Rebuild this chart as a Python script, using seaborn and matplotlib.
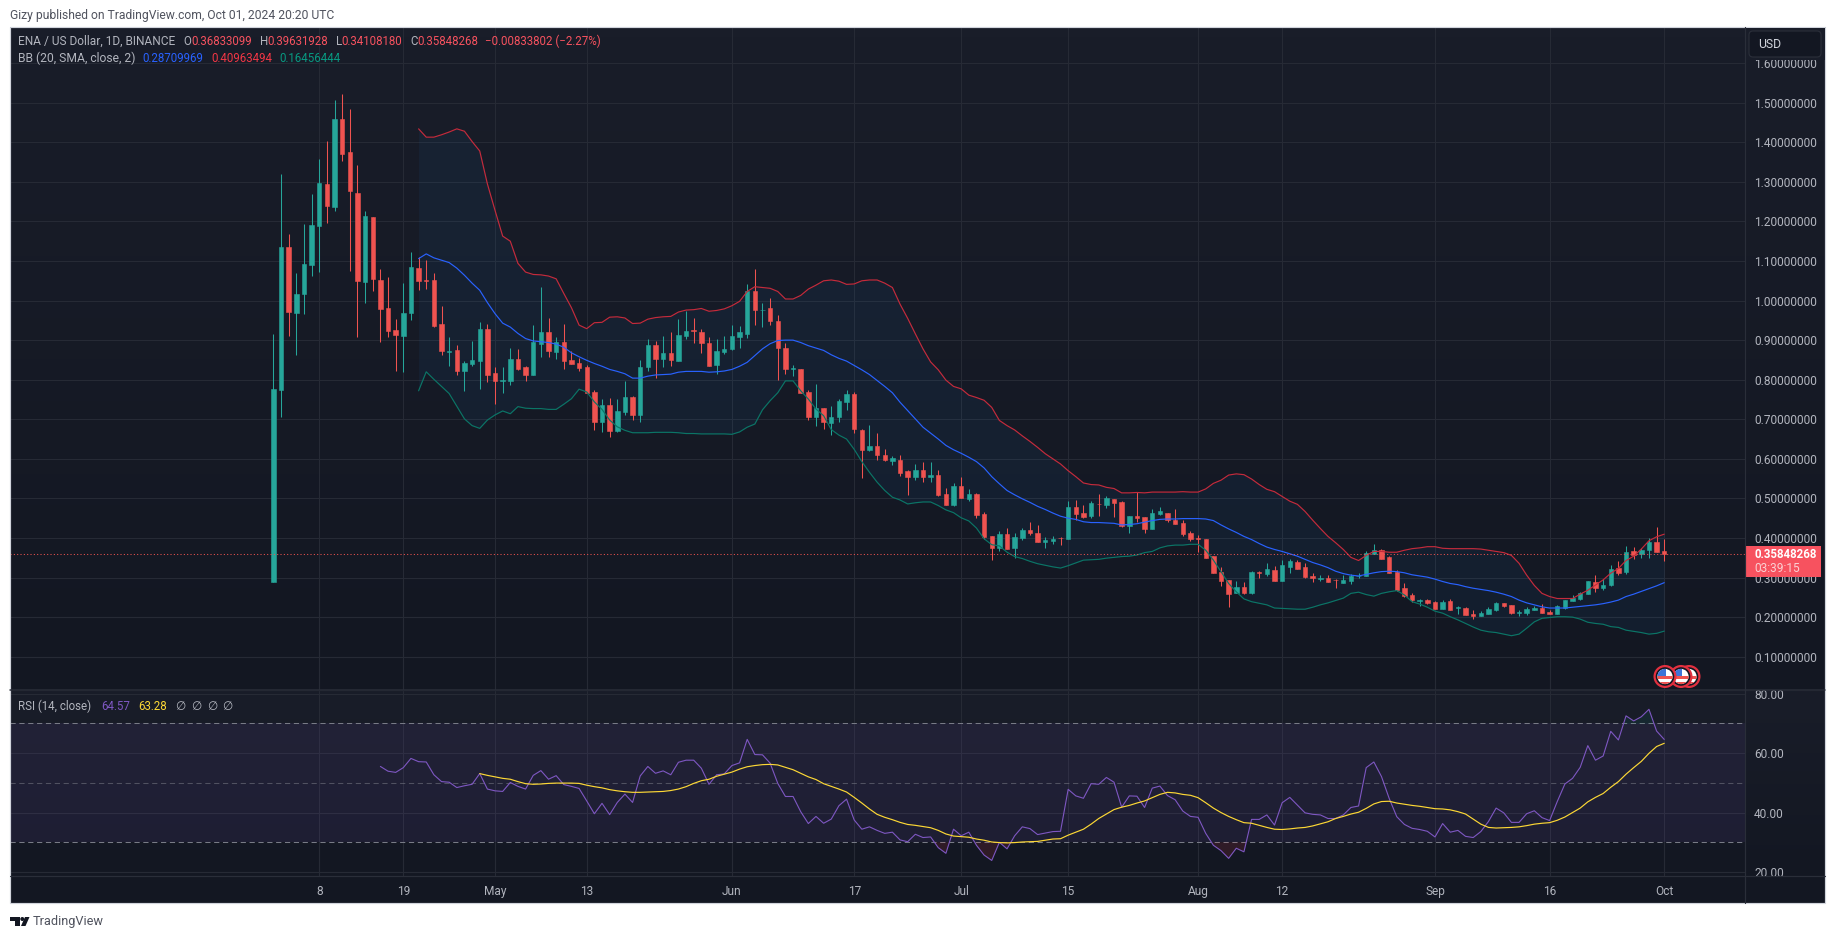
import numpy as np
import pandas as pd
import matplotlib
matplotlib.use("Agg")
import matplotlib.pyplot as plt
from matplotlib.colors import LinearSegmentedColormap
from matplotlib.patches import Circle, Rectangle, FancyBboxPatch, Polygon
import seaborn as sns

# ENA / USD daily candles, 2 Apr to 1 Oct 2024
first_day = "2024-04-02"
opens = [0.29, 0.774, 1.135, 0.969, 1.017, 1.090, 1.188, 1.294, 1.236, 1.460,
         1.375, 1.273, 1.047, 1.210, 1.053, 0.980, 0.925, 0.910, 0.969, 1.082,
         1.051, 1.051, 0.940, 0.870, 0.874, 0.821, 0.839, 0.847, 0.927, 0.816,
         0.797, 0.796, 0.852, 0.831, 0.811, 0.890, 0.920, 0.869, 0.895, 0.849,
         0.842, 0.831, 0.768, 0.693, 0.735, 0.670, 0.718, 0.756, 0.710, 0.831,
         0.887, 0.852, 0.867, 0.847, 0.910, 0.925, 0.920, 0.892, 0.836, 0.869,
         0.877, 0.907, 0.916, 1.025, 0.975, 0.980, 0.949, 0.881, 0.828, 0.828,
         0.770, 0.707, 0.729, 0.691, 0.707, 0.744, 0.765, 0.674, 0.623, 0.633,
         0.610, 0.595, 0.598, 0.570, 0.555, 0.573, 0.555, 0.560, 0.512, 0.484,
         0.532, 0.499, 0.512, 0.461, 0.406, 0.375, 0.411, 0.375, 0.401, 0.421,
         0.413, 0.391, 0.393, 0.401, 0.398, 0.479, 0.464, 0.456, 0.487, 0.484,
         0.499, 0.492, 0.431, 0.456, 0.454, 0.423, 0.461, 0.464, 0.446, 0.439,
         0.412, 0.400, 0.397, 0.354, 0.314, 0.294, 0.261, 0.276, 0.261, 0.314,
         0.309, 0.319, 0.291, 0.326, 0.339, 0.326, 0.304, 0.297, 0.299, 0.295,
         0.286, 0.291, 0.303, 0.304, 0.359, 0.369, 0.352, 0.314, 0.273, 0.256,
         0.240, 0.242, 0.238, 0.220, 0.241, 0.223, 0.223, 0.208, 0.203, 0.208,
         0.218, 0.235, 0.230, 0.211, 0.210, 0.218, 0.223, 0.213, 0.208, 0.223,
         0.241, 0.246, 0.258, 0.289, 0.273, 0.281, 0.324, 0.314, 0.367, 0.359,
         0.369, 0.390, 0.36833]
highs = [0.915, 1.319, 1.167, 1.069, 1.194, 1.270, 1.359, 1.404, 1.506, 1.523,
         1.483, 1.342, 1.226, 1.210, 1.079, 1.059, 0.953, 1.044, 1.122, 1.109,
         1.102, 1.069, 0.986, 0.907, 0.887, 0.847, 0.897, 0.945, 0.940, 0.831,
         0.831, 0.879, 0.877, 0.834, 0.938, 1.034, 0.955, 0.907, 0.940, 0.872,
         0.854, 0.836, 0.773, 0.751, 0.753, 0.751, 0.796, 0.758, 0.849, 0.902,
         0.897, 0.910, 0.920, 0.953, 0.973, 0.955, 0.927, 0.907, 0.902, 0.910,
         0.938, 0.935, 1.041, 1.081, 0.995, 1.007, 0.964, 0.894, 0.838, 0.828,
         0.775, 0.790, 0.729, 0.734, 0.750, 0.775, 0.770, 0.676, 0.686, 0.666,
         0.626, 0.608, 0.610, 0.573, 0.588, 0.593, 0.593, 0.573, 0.527, 0.540,
         0.555, 0.525, 0.514, 0.466, 0.406, 0.418, 0.426, 0.413, 0.424, 0.441,
         0.434, 0.403, 0.406, 0.403, 0.494, 0.497, 0.484, 0.494, 0.512, 0.507,
         0.499, 0.494, 0.456, 0.517, 0.454, 0.472, 0.479, 0.464, 0.474, 0.446,
         0.418, 0.407, 0.397, 0.354, 0.326, 0.294, 0.291, 0.289, 0.316, 0.316,
         0.337, 0.329, 0.344, 0.347, 0.344, 0.337, 0.311, 0.306, 0.306, 0.296,
         0.306, 0.309, 0.311, 0.367, 0.385, 0.371, 0.354, 0.319, 0.286, 0.261,
         0.246, 0.246, 0.241, 0.243, 0.246, 0.228, 0.225, 0.218, 0.215, 0.225,
         0.238, 0.235, 0.230, 0.218, 0.225, 0.228, 0.233, 0.218, 0.230, 0.243,
         0.256, 0.263, 0.291, 0.306, 0.296, 0.332, 0.342, 0.380, 0.377, 0.374,
         0.400, 0.428, 0.39632]
lows = [0.29, 0.706, 0.910, 0.862, 0.965, 1.062, 1.072, 1.196, 1.226, 1.354,
        1.075, 0.908, 0.994, 1.024, 0.895, 0.908, 0.822, 0.820, 0.950, 1.026,
        1.029, 0.933, 0.862, 0.834, 0.811, 0.771, 0.834, 0.776, 0.794, 0.738,
        0.766, 0.786, 0.824, 0.796, 0.811, 0.857, 0.857, 0.852, 0.826, 0.839,
        0.821, 0.766, 0.672, 0.667, 0.655, 0.667, 0.710, 0.698, 0.693, 0.821,
        0.804, 0.831, 0.834, 0.847, 0.902, 0.892, 0.867, 0.834, 0.814, 0.864,
        0.874, 0.879, 0.905, 0.939, 0.934, 0.939, 0.798, 0.815, 0.810, 0.767,
        0.699, 0.684, 0.676, 0.661, 0.694, 0.724, 0.666, 0.552, 0.621, 0.598,
        0.595, 0.585, 0.557, 0.509, 0.547, 0.542, 0.542, 0.507, 0.484, 0.482,
        0.502, 0.494, 0.451, 0.398, 0.345, 0.368, 0.373, 0.350, 0.396, 0.408,
        0.391, 0.375, 0.386, 0.381, 0.398, 0.446, 0.451, 0.451, 0.456, 0.477,
        0.454, 0.429, 0.413, 0.441, 0.413, 0.423, 0.459, 0.441, 0.436, 0.406,
        0.393, 0.365, 0.349, 0.311, 0.278, 0.225, 0.261, 0.258, 0.258, 0.299,
        0.304, 0.291, 0.291, 0.311, 0.321, 0.299, 0.289, 0.291, 0.289, 0.273,
        0.286, 0.283, 0.299, 0.304, 0.359, 0.347, 0.311, 0.266, 0.251, 0.238,
        0.228, 0.233, 0.220, 0.220, 0.218, 0.208, 0.205, 0.195, 0.203, 0.208,
        0.215, 0.225, 0.208, 0.203, 0.205, 0.218, 0.210, 0.208, 0.208, 0.220,
        0.241, 0.243, 0.258, 0.263, 0.268, 0.278, 0.306, 0.309, 0.347, 0.349,
        0.349, 0.364, 0.34108]
closes = [0.776, 1.135, 0.971, 1.016, 1.092, 1.190, 1.296, 1.239, 1.460, 1.370,
          1.277, 1.050, 1.213, 1.055, 0.979, 0.923, 0.912, 0.968, 1.084, 1.050,
          1.049, 0.935, 0.873, 0.872, 0.821, 0.842, 0.849, 0.927, 0.811, 0.796,
          0.799, 0.852, 0.826, 0.811, 0.895, 0.920, 0.872, 0.895, 0.847, 0.839,
          0.829, 0.766, 0.693, 0.735, 0.670, 0.720, 0.756, 0.710, 0.831, 0.887,
          0.852, 0.867, 0.849, 0.912, 0.922, 0.923, 0.892, 0.834, 0.872, 0.877,
          0.910, 0.920, 1.025, 0.977, 0.977, 0.949, 0.881, 0.828, 0.830, 0.767,
          0.707, 0.729, 0.694, 0.707, 0.747, 0.765, 0.676, 0.623, 0.633, 0.610,
          0.598, 0.603, 0.565, 0.555, 0.573, 0.555, 0.560, 0.509, 0.484, 0.532,
          0.502, 0.512, 0.459, 0.403, 0.375, 0.411, 0.373, 0.403, 0.421, 0.413,
          0.391, 0.396, 0.398, 0.399, 0.479, 0.461, 0.454, 0.489, 0.485, 0.502,
          0.489, 0.431, 0.456, 0.451, 0.423, 0.464, 0.469, 0.446, 0.436, 0.411,
          0.397, 0.398, 0.349, 0.311, 0.291, 0.258, 0.276, 0.261, 0.314, 0.311,
          0.321, 0.291, 0.332, 0.342, 0.321, 0.301, 0.299, 0.299, 0.289, 0.293,
          0.294, 0.304, 0.305, 0.362, 0.369, 0.347, 0.311, 0.268, 0.253, 0.243,
          0.242, 0.235, 0.220, 0.238, 0.218, 0.225, 0.205, 0.204, 0.210, 0.220,
          0.235, 0.228, 0.210, 0.213, 0.220, 0.223, 0.210, 0.208, 0.228, 0.243,
          0.248, 0.261, 0.291, 0.273, 0.281, 0.321, 0.311, 0.364, 0.357, 0.369,
          0.390, 0.364, 0.35848]

# Bollinger bands start on candle 19
bb_upper = [1.434, 1.413, 1.413, 1.419, 1.426, 1.434, 1.428, 1.402, 1.378, 1.295,
            1.228, 1.163, 1.150, 1.094, 1.072, 1.066, 1.065, 1.062, 1.055, 1.018,
            0.982, 0.938, 0.929, 0.944, 0.945, 0.958, 0.959, 0.956, 0.942, 0.943,
            0.953, 0.957, 0.959, 0.960, 0.971, 0.976, 0.977, 0.980, 0.973, 0.975,
            0.979, 0.987, 0.998, 1.023, 1.035, 1.033, 1.031, 1.023, 1.004, 1.004,
            1.013, 1.029, 1.039, 1.050, 1.052, 1.049, 1.041, 1.042, 1.050, 1.052,
            1.052, 1.044, 1.033, 0.991, 0.955, 0.916, 0.878, 0.845, 0.825, 0.799,
            0.783, 0.777, 0.761, 0.755, 0.748, 0.730, 0.697, 0.684, 0.673, 0.658,
            0.644, 0.629, 0.613, 0.600, 0.587, 0.570, 0.555, 0.539, 0.535, 0.534,
            0.528, 0.525, 0.514, 0.514, 0.515, 0.514, 0.516, 0.516, 0.516, 0.516,
            0.517, 0.516, 0.516, 0.524, 0.538, 0.546, 0.559, 0.562, 0.560, 0.549,
            0.535, 0.523, 0.517, 0.505, 0.493, 0.485, 0.467, 0.445, 0.424, 0.404,
            0.388, 0.371, 0.351, 0.343, 0.356, 0.366, 0.366, 0.364, 0.364, 0.369,
            0.373, 0.375, 0.378, 0.378, 0.374, 0.373, 0.373, 0.373, 0.373, 0.372,
            0.369, 0.366, 0.363, 0.356, 0.336, 0.306, 0.280, 0.260, 0.252, 0.247,
            0.247, 0.247, 0.258, 0.268, 0.281, 0.294, 0.311, 0.323, 0.343, 0.354,
            0.372, 0.393, 0.403, 0.4096]
bb_basis = [1.106, 1.118, 1.108, 1.102, 1.096, 1.082, 1.064, 1.044, 1.026, 0.995,
            0.967, 0.943, 0.933, 0.917, 0.904, 0.898, 0.896, 0.894, 0.890, 0.882,
            0.868, 0.858, 0.849, 0.841, 0.834, 0.826, 0.821, 0.815, 0.804, 0.804,
            0.809, 0.812, 0.813, 0.814, 0.819, 0.821, 0.821, 0.821, 0.819, 0.820,
            0.822, 0.826, 0.834, 0.844, 0.861, 0.878, 0.891, 0.899, 0.900, 0.900,
            0.894, 0.886, 0.880, 0.874, 0.863, 0.854, 0.847, 0.836, 0.825, 0.813,
            0.798, 0.783, 0.767, 0.743, 0.722, 0.701, 0.680, 0.665, 0.650, 0.634,
            0.623, 0.614, 0.604, 0.593, 0.577, 0.555, 0.537, 0.520, 0.509, 0.499,
            0.490, 0.480, 0.472, 0.463, 0.455, 0.450, 0.447, 0.441, 0.439, 0.439,
            0.438, 0.437, 0.433, 0.434, 0.436, 0.440, 0.444, 0.447, 0.448, 0.448,
            0.449, 0.449, 0.449, 0.448, 0.444, 0.433, 0.423, 0.414, 0.404, 0.396,
            0.386, 0.377, 0.371, 0.366, 0.360, 0.354, 0.346, 0.338, 0.332, 0.325,
            0.316, 0.310, 0.306, 0.304, 0.308, 0.312, 0.315, 0.316, 0.315, 0.312,
            0.307, 0.304, 0.301, 0.296, 0.290, 0.285, 0.282, 0.277, 0.273, 0.270,
            0.267, 0.263, 0.258, 0.252, 0.243, 0.236, 0.231, 0.226, 0.223, 0.223,
            0.223, 0.225, 0.227, 0.229, 0.231, 0.234, 0.238, 0.243, 0.252, 0.258,
            0.265, 0.272, 0.279, 0.2871]
bb_lower = [0.772, 0.820, 0.801, 0.783, 0.765, 0.733, 0.701, 0.684, 0.677, 0.698,
            0.711, 0.721, 0.714, 0.732, 0.728, 0.727, 0.727, 0.725, 0.725, 0.738,
            0.752, 0.776, 0.769, 0.744, 0.725, 0.698, 0.681, 0.672, 0.666, 0.666,
            0.666, 0.667, 0.667, 0.667, 0.666, 0.664, 0.664, 0.663, 0.663, 0.663,
            0.663, 0.662, 0.668, 0.680, 0.688, 0.724, 0.747, 0.767, 0.797, 0.797,
            0.772, 0.751, 0.726, 0.709, 0.674, 0.660, 0.650, 0.624, 0.593, 0.566,
            0.541, 0.520, 0.503, 0.496, 0.486, 0.489, 0.491, 0.491, 0.482, 0.471,
            0.464, 0.451, 0.443, 0.425, 0.398, 0.383, 0.380, 0.364, 0.353, 0.348,
            0.341, 0.335, 0.331, 0.327, 0.324, 0.330, 0.337, 0.344, 0.345, 0.346,
            0.349, 0.351, 0.353, 0.354, 0.357, 0.363, 0.366, 0.375, 0.380, 0.382,
            0.382, 0.384, 0.384, 0.369, 0.344, 0.315, 0.285, 0.264, 0.246, 0.239,
            0.235, 0.231, 0.223, 0.222, 0.221, 0.220, 0.220, 0.225, 0.231, 0.236,
            0.242, 0.248, 0.260, 0.263, 0.257, 0.253, 0.260, 0.264, 0.267, 0.256,
            0.239, 0.233, 0.225, 0.215, 0.210, 0.201, 0.193, 0.184, 0.175, 0.167,
            0.163, 0.161, 0.157, 0.153, 0.157, 0.172, 0.188, 0.197, 0.199, 0.201,
            0.201, 0.200, 0.195, 0.187, 0.184, 0.182, 0.176, 0.174, 0.167, 0.164,
            0.161, 0.157, 0.159, 0.1646]

# RSI starts on candle 14, its moving average on candle 27
rsi_values = [55.5, 53.9, 53.5, 55.1, 58.2, 57.1, 57.0, 52.7, 50.4, 50.2,
              48.4, 49.0, 49.5, 53.1, 47.9, 47.3, 47.1, 50.1, 48.8, 47.9,
              52.5, 54.1, 51.2, 52.4, 49.4, 48.8, 48.1, 43.9, 39.6, 43.1,
              39.3, 43.4, 46.2, 43.4, 52.3, 55.5, 53.2, 54.0, 52.7, 56.9,
              57.6, 57.6, 54.9, 49.5, 52.7, 53.0, 55.8, 56.7, 64.6, 59.5,
              59.4, 56.6, 49.8, 45.4, 45.4, 40.3, 36.3, 38.7, 36.4, 37.8,
              42.3, 44.5, 37.5, 34.4, 35.2, 34.0, 33.0, 33.4, 30.8, 30.2,
              32.7, 31.6, 31.8, 28.2, 26.3, 34.4, 32.2, 33.4, 29.0, 25.7,
              23.9, 30.0, 27.8, 32.2, 35.2, 34.6, 32.6, 33.1, 33.6, 33.7,
              47.8, 45.6, 44.8, 49.7, 49.5, 51.8, 50.2, 41.8, 45.6, 45.5,
              41.7, 48.2, 48.9, 45.7, 44.3, 40.5, 38.7, 38.4, 33.0, 29.0,
              27.2, 24.6, 28.0, 26.8, 37.7, 37.7, 39.2, 35.8, 43.3, 45.1,
              42.5, 39.9, 39.4, 39.2, 38.0, 38.0, 39.2, 41.7, 42.2, 55.1,
              57.0, 52.1, 44.8, 38.6, 36.0, 34.7, 34.3, 33.7, 31.8, 36.3,
              33.4, 34.0, 32.0, 31.6, 33.6, 37.0, 41.5, 39.9, 36.7, 36.7,
              39.6, 40.6, 38.3, 37.3, 43.7, 49.6, 51.5, 55.2, 62.5, 57.6,
              59.0, 67.3, 64.4, 72.5, 70.8, 72.2, 74.7, 67.4, 64.57]
rsi_ma = [53.1, 52.5, 52.0, 51.5, 51.2, 50.4, 49.7, 49.5, 49.6, 49.8,
          49.9, 49.9, 49.9, 49.8, 49.2, 48.7, 48.3, 47.7, 47.3, 47.0,
          46.8, 46.8, 46.9, 47.0, 47.1, 47.4, 47.9, 48.7, 49.8, 50.7,
          51.2, 52.2, 52.9, 53.6, 54.6, 55.4, 55.8, 56.1, 56.2, 56.0,
          55.2, 54.4, 53.2, 52.0, 51.1, 49.7, 48.8, 47.9, 46.9, 45.1,
          43.2, 41.2, 39.4, 38.4, 37.6, 36.7, 36.0, 35.7, 35.3, 34.9,
          34.0, 32.8, 32.1, 31.9, 31.7, 31.1, 30.7, 30.1, 29.9, 29.8,
          29.9, 30.1, 30.2, 30.3, 30.7, 31.1, 31.2, 32.4, 33.4, 34.4,
          36.1, 38.0, 39.5, 41.0, 41.8, 42.4, 43.2, 43.9, 45.0, 46.1,
          46.8, 46.6, 46.1, 45.8, 45.0, 43.3, 41.5, 40.0, 38.7, 37.6,
          36.6, 36.4, 35.7, 35.0, 34.4, 34.3, 34.5, 34.8, 35.0, 35.5,
          36.2, 36.9, 38.0, 38.7, 39.5, 40.1, 41.4, 42.9, 43.7, 43.8,
          43.2, 42.8, 42.4, 42.1, 41.7, 41.3, 41.2, 40.9, 40.3, 39.5,
          37.8, 36.1, 35.0, 34.8, 34.9, 35.0, 35.2, 35.6, 36.1, 36.4,
          36.6, 37.4, 38.5, 40.0, 41.5, 43.6, 45.1, 46.4, 48.5, 50.4,
          52.9, 55.1, 57.2, 59.9, 62.2, 63.28]

last_close = 0.35848268
price_ticks = [0.1, 0.2, 0.3, 0.4, 0.5, 0.6, 0.7, 0.8, 0.9, 1.0, 1.1, 1.2, 1.3, 1.4, 1.5, 1.6]
rsi_ticks = [20, 40, 60, 80]
rsi_levels = [30, 50, 70]
date_ticks = ["2024-04-08", "2024-04-19", "2024-05-01", "2024-05-13", "2024-06-01",
              "2024-06-17", "2024-07-01", "2024-07-15", "2024-08-01", "2024-08-12",
              "2024-09-01", "2024-09-16", "2024-10-01"]
date_labels = ["8", "19", "May", "13", "Jun", "17", "Jul", "15", "Aug", "12", "Sep", "16", "Oct"]

published = "Gizy published on TradingView.com, Oct 01, 2024 20:20 UTC"
symbol = "ENA / US Dollar, 1D, BINANCE"
ohlc_text = [("O", "0.36833099"), ("H", "0.39631928"), ("L", "0.34108180"), ("C", "0.35848268")]
change_text = "\u22120.00833802 (\u22122.27%)"
bb_text = "BB (20, SMA, close, 2)"
bb_readout = ["0.28709969", "0.40963494", "0.16456444"]
rsi_text = "RSI (14, close)"
rsi_readout = ["64.57", "63.28"]

GREEN = "#26a69a"
RED = "#ef5350"
GRID = "#262a35"
LINE = "#2a2e39"
TEXT = "#b2b5be"
W, H = 1835, 939

sns.set_theme(style="dark", rc={"axes.facecolor": "none", "figure.facecolor": "white"})
plt.rcParams["font.family"] = ["Roboto", "DejaVu Sans"]

df = pd.DataFrame({"date": pd.date_range(first_day, periods=len(opens)),
                   "open": opens, "high": highs, "low": lows, "close": closes})
df["upper"] = [np.nan] * 19 + bb_upper
df["basis"] = [np.nan] * 19 + bb_basis
df["lower"] = [np.nan] * 19 + bb_lower
df["rsi"] = [np.nan] * 14 + rsi_values
df["rsi_ma"] = [np.nan] * 27 + rsi_ma
df["color"] = np.where(df["close"] >= df["open"], GREEN, RED)


def pane(left, top, right, bottom):
    return fig.add_axes([left / W, 1 - bottom / H, (right - left) / W, (bottom - top) / H])


fig = plt.figure(figsize=(W / 100, H / 100), dpi=100)

# background in pixel coordinates
bg = pane(0, 0, W, H)
bg.set_zorder(-1)
shade = LinearSegmentedColormap.from_list("pane", ["#191d29", "#131722"])
ramp = np.linspace(0, 1, 64).reshape(-1, 1)
bg.imshow(ramp, cmap=shade, extent=[10, 1825, 692, 27], aspect="auto")
bg.imshow(ramp, cmap=shade, extent=[10, 1825, 877, 691], aspect="auto")
bg.add_patch(Rectangle((10, 876), 1815, 27, color="#131722", lw=0, zorder=5))
bg.set_xlim(0, W)
bg.set_ylim(H, 0)
bg.axis("off")

x_left = df["date"][0] + pd.Timedelta(days=(10 - 273.4) / 7.642)
x_right = df["date"][0] + pd.Timedelta(days=(1745 - 273.4) / 7.642)
tick_dates = pd.to_datetime(date_ticks)

# price pane
ax = pane(10, 27, 1745, 690)
ax.set_xlim(x_left, x_right)
ax.set_ylim(0.0158, 1.6914)
ax.fill_between(df["date"], df["lower"], df["upper"], color="#2196f3", alpha=0.06, lw=0, zorder=1)
ax.vlines(df["date"], df["low"], df["high"], colors=df["color"], lw=0.75, zorder=2)
ax.bar(df["date"], (df["close"] - df["open"]).abs(), bottom=df[["open", "close"]].min(axis=1),
       width=0.58, color=df["color"], edgecolor=df["color"], linewidth=0.4, zorder=3)
sns.lineplot(data=df, x="date", y="upper", ax=ax, color="#c42b3c", lw=0.85, zorder=4)
sns.lineplot(data=df, x="date", y="basis", ax=ax, color="#2962ff", lw=0.85, zorder=4)
sns.lineplot(data=df, x="date", y="lower", ax=ax, color="#0b7566", lw=0.85, zorder=4)
ax.axhline(last_close, color=RED, lw=0.75, ls=(0, (1, 2.2)), zorder=4)
ax.set_yticks(price_ticks)
ax.set_yticklabels(["%.8f" % v for v in price_ticks])
ax.set_xticks(tick_dates)
ax.tick_params(axis="x", length=0, labelbottom=False)

# RSI pane
ax2 = pane(10, 691, 1745, 876)
ax2.set_xlim(x_left, x_right)
ax2.set_ylim(18.67, 80.86)
ax2.axhspan(rsi_levels[0], rsi_levels[2], color="#7e57c2", alpha=0.1, lw=0, zorder=1)
for level in rsi_levels:
    ax2.axhline(level, color="#787b86", lw=0.75, ls=(0, (5, 3.5)), zorder=2,
                alpha=0.55 if level == 50 else 1)
ax2.fill_between(df["date"], df["rsi"], 30, where=df["rsi"] < 30, interpolate=True,
                 color="#f23645", alpha=0.13, lw=0, zorder=2)
ax2.fill_between(df["date"], df["rsi"], 70, where=df["rsi"] > 70, interpolate=True,
                 color="#089981", alpha=0.10, lw=0, zorder=2)
sns.lineplot(data=df, x="date", y="rsi", ax=ax2, color="#7e57c2", lw=0.8, zorder=3)
sns.lineplot(data=df, x="date", y="rsi_ma", ax=ax2, color="#fdd835", lw=0.85, zorder=4)
ax2.set_yticks(rsi_ticks)
ax2.set_yticklabels(["%.2f" % v for v in rsi_ticks])
ax2.set_xticks(tick_dates)
ax2.set_xticklabels(date_labels)
ax2.tick_params(axis="x", length=0, pad=6.3, labelsize=8.6, colors=TEXT)

for a in (ax, ax2):
    a.set_xlabel("")
    a.set_ylabel("")
    a.yaxis.tick_right()
    a.tick_params(axis="y", length=0, pad=6.5, labelsize=8.6, colors=TEXT)
    a.grid(True, color=GRID, lw=0.8)
    a.set_axisbelow(True)
    for spine in a.spines.values():
        spine.set_visible(False)

# overlay in pixel coordinates: frame, labels, flags, logo
top = pane(0, 0, W, H)
top.set_zorder(10)
top.set_xlim(0, W)
top.set_ylim(H, 0)
top.axis("off")
top.patch.set_alpha(0)
top.plot([1745, 1745], [27, 903], color=LINE, lw=0.85)
top.plot([10, 1825], [690, 690], color=LINE, lw=1.1)
top.plot([10, 1825], [876, 876], color=LINE, lw=0.85)
top.add_patch(Rectangle((9.5, 26.5), 1815.5, 876.5, fill=False, ec="#d1d4dc", lw=0.85))

top.add_patch(Rectangle((1746, 27.5), 78.5, 32, color="#191d29", lw=0))
top.add_patch(FancyBboxPatch((1749, 31), 72, 26, boxstyle="round,pad=0,rounding_size=4",
                             fc="#131722", ec=LINE, lw=0.85))
top.text(1758, 44.5, "USD", color="#d1d4dc", fontsize=8.8, va="center")

top.add_patch(Rectangle((1746, 546), 75, 31, color="#f7525f", lw=0))
top.text(1754, 554, "0.35848268", color="white", fontsize=8.3, fontweight="bold", va="center")
top.text(1754, 568.5, "03:39:15", color="#fbd0d3", fontsize=8.6, va="center")


def label(x, y, s, color=TEXT, size=8.3, **kw):
    top.text(x, y, s, color=color, fontsize=size, va="center", **kw)


label(10, 15, published, color="#50535e", size=8.75)
label(18, 41.5, symbol, size=8.6)
for (name, value), x_name, x_value in zip(ohlc_text, [183, 260, 335.5, 410], [191, 267, 341, 417]):
    label(x_name, 41.5, name)
    label(x_value, 41.5, value, color="#f7525f")
label(485, 41.5, change_text, color="#f7525f")
label(18, 58.5, bb_text, size=8.7)
for value, x_value, col in zip(bb_readout, [142.5, 211, 279.5], ["#2962ff", "#f23645", "#089981"]):
    label(x_value, 58.5, value, color=col)
label(18, 706, rsi_text)
label(101.5, 706, rsi_readout[0], color="#7e57c2")
label(138, 706, rsi_readout[1], color="#fdd835")
for x_empty in [175.5, 191.5, 207, 222]:
    label(x_empty, 706, "\u2205", size=8.6)


def flag(cx, cy):
    top.add_patch(Circle((cx, cy), 10.4, fc="#131722", ec="#e2303f", lw=1.6))
    disc = Circle((cx, cy), 7.6, fc="white", ec="none")
    top.add_patch(disc)
    for offset, height in [(-0.5, 3), (5, 3)]:
        stripe = Rectangle((cx - 9, cy + offset), 18, height, color="#ef5350", lw=0)
        top.add_patch(stripe)
        stripe.set_clip_path(disc)
    canton = Rectangle((cx - 9, cy - 9), 9.5, 8.5, color="#3d74d8", lw=0)
    top.add_patch(canton)
    canton.set_clip_path(disc)


for cx in [1689, 1681, 1665]:
    flag(cx, 676.5)

logo = "#131722"
top.add_patch(Rectangle((10, 917), 9.5, 4, color=logo, lw=0))
top.add_patch(Rectangle((14.5, 917), 5, 9, color=logo, lw=0))
top.add_patch(Circle((22.3, 919), 2, color=logo, lw=0))
top.add_patch(Polygon([(25, 917), (29.5, 917), (25.5, 926), (21, 926)], color=logo, lw=0))
label(33, 921.5, "TradingView", color="#50535e", size=9.2)

ax.set_xlim(x_left, x_right)
ax2.set_xlim(x_left, x_right)
plt.savefig("out.png", dpi=100)
